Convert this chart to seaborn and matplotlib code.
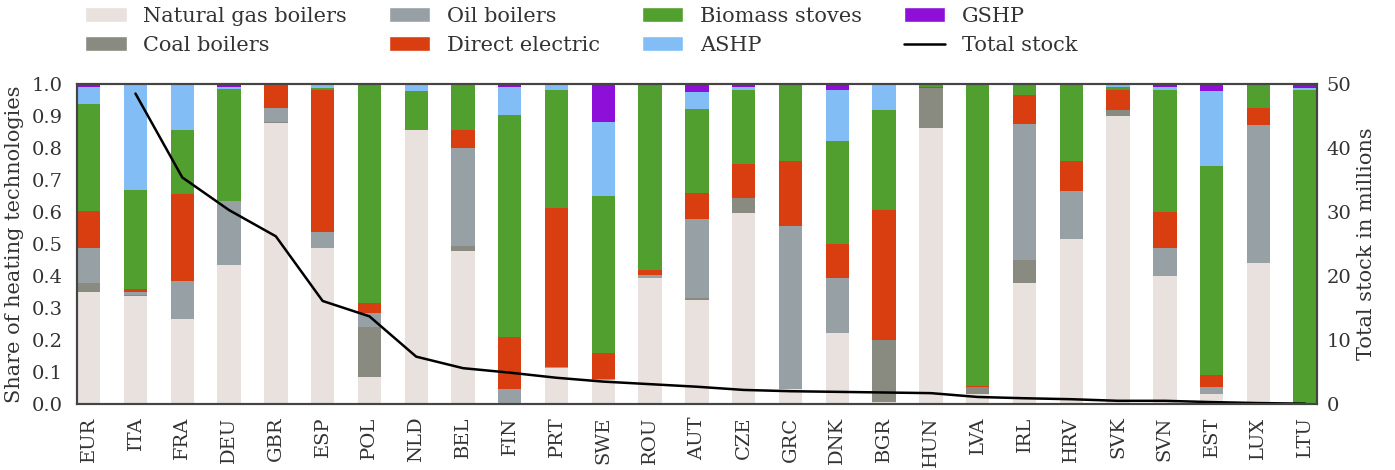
import numpy as np
import pandas as pd
import seaborn as sns
import matplotlib.pyplot as plt
from matplotlib.patches import Patch
from matplotlib.lines import Line2D

countries = ['EUR', 'ITA', 'FRA', 'DEU', 'GBR', 'ESP', 'POL', 'NLD', 'BEL', 'FIN',
             'PRT', 'SWE', 'ROU', 'AUT', 'CZE', 'GRC', 'DNK', 'BGR', 'HUN', 'LVA',
             'IRL', 'HRV', 'SVK', 'SVN', 'EST', 'LUX', 'LTU']

gas = [.351, .338, .265, .433, .877, .489, .085, .855, .478, 0, .111, .075, .395, .324,
       .597, .048, .221, .005, .862, .03, .379, .517, .899, .4, .03, .44, 0]
coal = [.026, .003, 0, 0, .003, 0, .155, 0, .016, 0, 0, 0, 0, .007,
        .047, 0, 0, .195, .125, .024, .071, 0, .021, 0, 0, 0, 0]
oil = [.112, .01, .12, .201, .044, .049, .045, 0, .305, .046, .004, .004, .009, .247,
       0, .509, .172, 0, 0, 0, .426, .149, 0, .089, .022, .433, 0]
direct_el = [.115, .007, .271, 0, .076, .442, .032, .002, .058, .163, .496, .081, .015, .082,
             .106, .203, .108, .407, .004, .003, .09, .094, .061, .111, .039, .052, 0]
biomass = [.333, .311, .201, .35, 0, .008, .683, .121, .143, .694, .371, .491, .581, .263,
           .231, .24, .321, .313, .009, .943, .034, .24, .011, .381, .653, .075, .98]
ashp = [.055, .331, .143, .008, 0, .012, 0, .022, 0, .089, .018, .23, 0, .051,
        .009, 0, .16, .08, 0, 0, 0, 0, .008, .011, .235, 0, .008]
gshp = [.008, 0, 0, .008, 0, 0, 0, 0, 0, .008, 0, .119, 0, .026,
        .01, 0, .018, 0, 0, 0, 0, 0, 0, .008, .021, 0, .012]

# total stock in millions (no value for EUR)
total_stock = [np.nan, 48.5, 35.4, 30.3, 26.2, 16.1, 13.7, 7.4, 5.6, 4.9, 4.1, 3.5, 3.1, 2.7,
               2.2, 2.0, 1.9, 1.8, 1.7, 1.1, 0.9, 0.75, 0.5, 0.5, 0.3, 0.15, 0.05]

techs = ['Natural gas boilers', 'Coal boilers', 'Oil boilers', 'Direct electric',
         'Biomass stoves', 'ASHP', 'GSHP']
colors = ['#e9e1de', '#8a8b80', '#96a0a5', '#d83e0f', '#519f2e', '#82bef5', '#8e0fd7']


def main():
    df = pd.DataFrame({'Natural gas boilers': gas, 'Coal boilers': coal,
                       'Oil boilers': oil, 'Direct electric': direct_el,
                       'Biomass stoves': biomass, 'ASHP': ashp, 'GSHP': gshp},
                      index=countries)
    cum = df.cumsum(axis=1)

    sns.set_style('white')
    plt.rcParams['font.family'] = ['DejaVu Serif']
    plt.rcParams['text.color'] = '#333333'
    plt.rcParams['axes.labelcolor'] = '#333333'
    plt.rcParams['xtick.color'] = '#333333'
    plt.rcParams['ytick.color'] = '#333333'

    fig = plt.figure(figsize=(13.95, 4.7), dpi=100)
    ax = fig.add_axes([0.0552, 0.1404, 0.8888, 0.6809])

    # stacked bars: draw cumulative tops from highest to lowest
    for tech, col in reversed(list(zip(techs, colors))):
        sns.barplot(x=countries, y=cum[tech].values, color=col, saturation=1,
                    width=0.5, errorbar=None, linewidth=0, edgecolor='none', ax=ax)

    ax.set_xlim(-0.25, len(countries) - 0.75)
    ax.set_ylim(0, 1.0)
    ax.set_yticks(np.arange(0, 1.01, 0.1))
    ax.set_yticklabels([f'{v:.1f}' for v in np.arange(0, 1.01, 0.1)], fontsize=14)
    ax.set_xticks(range(len(countries)))
    ax.set_xticklabels(countries, rotation=90, fontsize=14)
    ax.set_ylabel('Share of heating technologies', fontsize=15, labelpad=6)
    ax.tick_params(axis='y', length=0, pad=10)
    ax.tick_params(axis='x', length=0, pad=9)

    ax2 = ax.twinx()
    sns.lineplot(x=np.arange(len(countries)), y=total_stock, color='black',
                 linewidth=1.8, ax=ax2)
    ax2.set_ylim(0, 50)
    ax2.set_yticks(range(0, 51, 10))
    ax2.set_yticklabels([str(v) for v in range(0, 51, 10)], fontsize=14)
    ax2.set_ylabel('Total stock in millions', fontsize=15)
    ax2.tick_params(length=0, pad=7)
    ax2.set_xlim(-0.25, len(countries) - 0.75)

    for a in (ax, ax2):
        for s in a.spines.values():
            s.set_color('#444444')
            s.set_linewidth(1.5)

    handles = [Patch(facecolor=c, label=t) for t, c in zip(techs, colors)]
    handles.append(Line2D([0], [0], color='black', lw=1.8, label='Total stock'))
    fig.legend(handles=handles, ncol=4, frameon=False, fontsize=15,
               loc='upper left', bbox_to_anchor=(0.0609, 0.986),
               borderaxespad=0, borderpad=0, columnspacing=2.0,
               labelspacing=0.5)

    plt.savefig('out.png', dpi=100)


if __name__ == "__main__":
    main()
